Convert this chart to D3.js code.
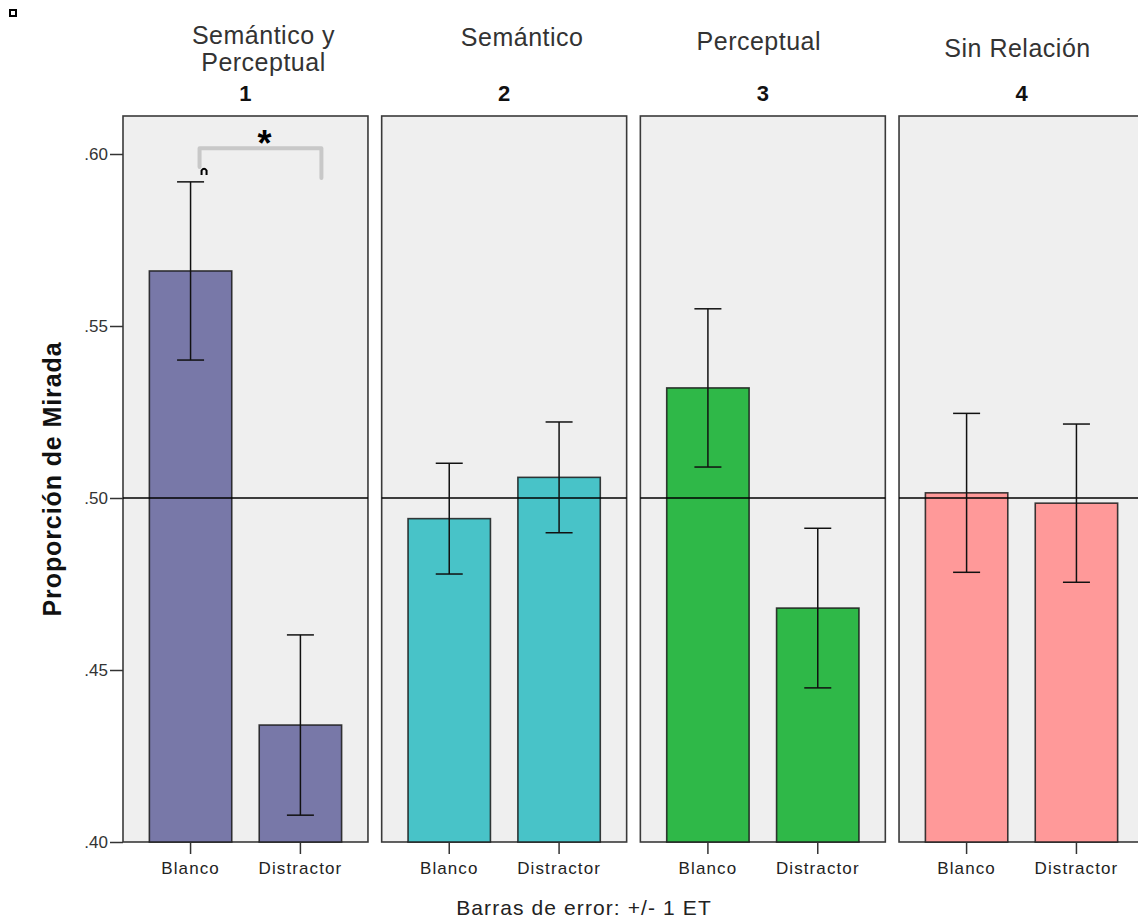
<!DOCTYPE html>
<html>
<head>
<meta charset="utf-8">
<script src="https://cdn.jsdelivr.net/npm/d3@7"></script>
<style>
  html, body { margin: 0; padding: 0; background: #fff; }
  text { font-family: "Liberation Sans", Arial, sans-serif; }
</style>
</head>
<body>
<div id="chart"></div>
<script>
// data
const groups = ["1", "2", "3", "4"];
const groupTitles = [["Semántico y", "Perceptual"], ["Semántico"], ["Perceptual"], ["Sin Relación"]];
const conditions = ["Blanco", "Distractor"];
const groupColors = ["#7878a8", "#48c3c8", "#2fb848", "#ff9999"];
const meanBlanco = [0.566, 0.494, 0.532, 0.5015];
const meanDistractor = [0.434, 0.506, 0.468, 0.4985];
const seBlanco = [0.0259, 0.0161, 0.0230, 0.0231];
const seDistractor = [0.0262, 0.0161, 0.0232, 0.0230];
const yTicks = [0.40, 0.45, 0.50, 0.55, 0.60];
const refLine = 0.50;

const width = 1138, height = 920;
const svg = d3.select("#chart").append("svg")
  .attr("width", width).attr("height", height);

// scales
const y = d3.scaleLinear().domain([0.40, 0.60]).range([842, 154]);
const yTop = 116;
const xPanel = d3.scaleBand().domain(groups).range([123, 1144]).paddingInner(0.053).paddingOuter(0);
const xCond = d3.scaleBand().domain(conditions).range([0, xPanel.bandwidth()]).paddingInner(0.25).paddingOuter(0.24);

// tiny marker top left
svg.append("rect").attr("x", 10).attr("y", 10).attr("width", 6).attr("height", 6)
  .attr("fill", "#fff").attr("stroke", "#000").attr("stroke-width", 2);

const rows = [];
groups.forEach((g, i) => {
  rows.push({ g: g, i: i, cond: "Blanco", mean: meanBlanco[i], se: seBlanco[i] });
  rows.push({ g: g, i: i, cond: "Distractor", mean: meanDistractor[i], se: seDistractor[i] });
});

const panels = svg.selectAll("g.panel").data(groups).join("g")
  .attr("class", "panel")
  .attr("transform", d => `translate(${xPanel(d)},0)`);

panels.append("rect")
  .attr("x", 0).attr("y", yTop)
  .attr("width", xPanel.bandwidth()).attr("height", y(0.40) - yTop)
  .attr("fill", "#efefef").attr("stroke", "#3a3a3a").attr("stroke-width", 1.6);

// bars
panels.each(function (g, i) {
  const p = d3.select(this);
  const data = rows.filter(r => r.g === g);
  p.selectAll("rect.bar").data(data).join("rect")
    .attr("class", "bar")
    .attr("x", d => xCond(d.cond))
    .attr("y", d => y(d.mean))
    .attr("width", xCond.bandwidth())
    .attr("height", d => y(0.40) - y(d.mean))
    .attr("fill", groupColors[i])
    .attr("stroke", "#1a1a1a").attr("stroke-opacity", 0.85).attr("stroke-width", 1.6);

  // 0.50 reference line
  p.append("line")
    .attr("x1", 0).attr("x2", xPanel.bandwidth())
    .attr("y1", y(refLine)).attr("y2", y(refLine))
    .attr("stroke", "#000").attr("stroke-width", 1.3);

  // error bars
  const eb = p.selectAll("g.err").data(data).join("g").attr("class", "err")
    .attr("transform", d => `translate(${xCond(d.cond) + xCond.bandwidth() / 2},0)`)
    .attr("stroke", "#111").attr("stroke-width", 1.5);
  eb.append("line").attr("y1", d => y(d.mean + d.se)).attr("y2", d => y(d.mean - d.se));
  eb.append("line").attr("x1", -13.5).attr("x2", 13.5)
    .attr("y1", d => y(d.mean + d.se)).attr("y2", d => y(d.mean + d.se));
  eb.append("line").attr("x1", -13.5).attr("x2", 13.5)
    .attr("y1", d => y(d.mean - d.se)).attr("y2", d => y(d.mean - d.se));

  // x axis per panel
  const ax = p.append("g").attr("transform", `translate(0,${y(0.40)})`)
    .call(d3.axisBottom(xCond).tickSize(12).tickPadding(8));
  ax.select(".domain").remove();
  ax.selectAll(".tick line").attr("stroke", "#333").attr("stroke-width", 1.5);
  ax.selectAll(".tick text")
    .style("font-family", "'Liberation Sans', Arial, sans-serif")
    .attr("font-size", 17).attr("letter-spacing", 1.1).attr("fill", "#222");

  // panel number
  p.append("text")
    .attr("x", xPanel.bandwidth() / 2).attr("y", 101)
    .attr("text-anchor", "middle")
    .attr("font-size", 22).attr("font-weight", "bold").attr("fill", "#111")
    .text(g);
});

// group titles (positions vary slightly in the original)
const titlePos = [
  { dx: 18, ys: [44, 71] },
  { dx: 18, ys: [46] },
  { dx: -4, ys: [50] },
  { dx: -4, ys: [57] }
];
groups.forEach((g, i) => {
  groupTitles[i].forEach((line, j) => {
    svg.append("text")
      .attr("x", xPanel(g) + xPanel.bandwidth() / 2 + titlePos[i].dx)
      .attr("y", titlePos[i].ys[j])
      .attr("text-anchor", "middle")
      .attr("font-size", 25).attr("letter-spacing", 0.5).attr("fill", "#333")
      .text(line);
  });
});

// y axis
const yAxis = svg.append("g").attr("transform", `translate(${xPanel(groups[0])},0)`)
  .call(d3.axisLeft(y).tickValues(yTicks).tickSize(13).tickPadding(2)
    .tickFormat(d => d3.format(".2f")(d).replace(/^0/, "")));
yAxis.select(".domain").remove();
yAxis.selectAll(".tick line").attr("stroke", "#333").attr("stroke-width", 1.5);
yAxis.selectAll(".tick text")
  .style("font-family", "'Liberation Sans', Arial, sans-serif")
  .attr("font-size", 17).attr("fill", "#333");

svg.append("text")
  .attr("transform", `translate(61,${(338 + 620) / 2}) rotate(-90)`)
  .attr("text-anchor", "middle")
  .attr("font-size", 25).attr("font-weight", "bold").attr("letter-spacing", 0.9).attr("fill", "#111")
  .text("Proporción de Mirada");

// footer
svg.append("text")
  .attr("x", 584).attr("y", 915)
  .attr("text-anchor", "middle")
  .attr("font-size", 21).attr("letter-spacing", 1.1).attr("fill", "#222")
  .text("Barras de error: +/- 1 ET");

// significance bracket over panel 1
const p1 = xPanel(groups[0]);
const cB = p1 + xCond("Blanco") + xCond.bandwidth() / 2;
const cD = p1 + xCond("Distractor") + xCond.bandwidth() / 2;
svg.append("path")
  .attr("d", `M${cB + 9},${y(0.5962)} V${y(0.6017)} H${cD + 21} V${y(0.593)}`)
  .attr("fill", "none").attr("stroke", "#c8c8c8").attr("stroke-width", 4)
  .attr("stroke-linejoin", "round").attr("stroke-linecap", "round");
svg.append("path")
  .attr("d", `M${cB + 11},${y(0.5939)} V${y(0.5952)} Q${cB + 13.5},${y(0.5962)} ${cB + 16},${y(0.5952)} V${y(0.5939)}`)
  .attr("fill", "none").attr("stroke", "#000").attr("stroke-width", 2);
svg.append("text")
  .attr("x", (cB + cD) / 2 + 19).attr("y", 156)
  .attr("text-anchor", "middle")
  .attr("font-size", 36).attr("font-weight", "bold").attr("fill", "#000")
  .text("*");
</script>
</body>
</html>
